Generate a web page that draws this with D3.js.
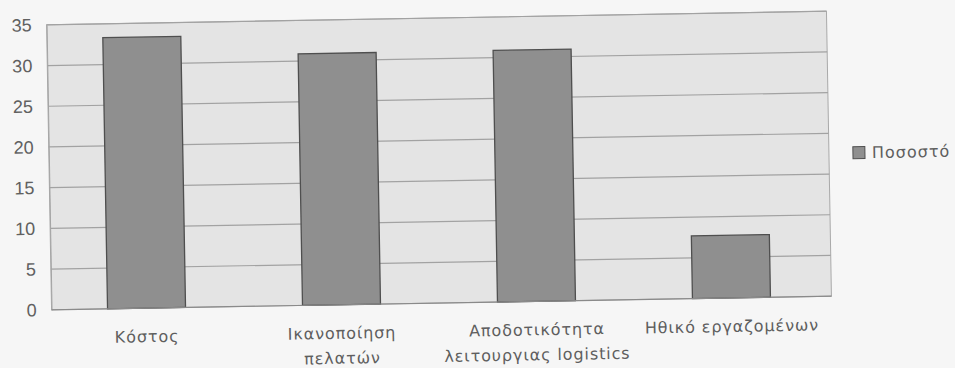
<!DOCTYPE html>
<html>
<head>
<meta charset="utf-8">
<script src="https://cdn.jsdelivr.net/npm/d3@7"></script>
<style>
  html, body { margin: 0; padding: 0; background: #f6f6f6; }
  svg { display: block; }
</style>
</head>
<body>
<div id="chart"></div>
<script>
// ---- data ----
const categories = [
  ["Κόστος"],
  ["Ικανοποίηση", "πελατών"],
  ["Αποδοτικότητα", "λειτουργιας logistics"],
  ["Ηθικό εργαζομένων"]
];
const values = [33.3, 30.9, 30.9, 7.7];
const seriesName = "Ποσοστό";
const yTicks = [0, 5, 10, 15, 20, 25, 30, 35];

// ---- layout ----
const W = 955, H = 368;
const plot = { left: 49, right: 829, top: 18, bottom: 303 };
const tilt = -1.0; // scan is slightly rotated
const cx = (plot.left + plot.right) / 2, cy = (plot.top + plot.bottom) / 2;

const svg = d3.select("#chart").append("svg")
  .attr("width", W).attr("height", H);

const g = svg.append("g").attr("transform", `rotate(${tilt},${cx},${cy})`);

const x = d3.scaleBand()
  .domain(d3.range(categories.length))
  .range([plot.left - 2.5, plot.right - 2.5])
  .paddingInner(0.6).paddingOuter(0.3);

const y = d3.scaleLinear().domain([0, 35]).range([plot.bottom, plot.top]);

// plot area
g.append("rect")
  .attr("x", plot.left).attr("y", plot.top)
  .attr("width", plot.right - plot.left).attr("height", plot.bottom - plot.top)
  .attr("fill", "#e4e4e4").attr("stroke", "#a9a9a9").attr("stroke-width", 1);

// gridlines
g.append("g").selectAll("line").data(yTicks.filter(d => d > 0)).join("line")
  .attr("x1", plot.left).attr("x2", plot.right)
  .attr("y1", d => y(d)).attr("y2", d => y(d))
  .attr("stroke", "#a2a2a2").attr("stroke-width", 1.2);

// y axis
const yAxis = g.append("g")
  .attr("transform", `translate(${plot.left},0)`)
  .call(d3.axisLeft(y).tickValues(yTicks).tickSize(0).tickPadding(15));
yAxis.select(".domain").attr("stroke", "#a4a4a4");
yAxis.selectAll("text")
  .attr("font-family", "'Liberation Sans', Arial, sans-serif")
  .attr("font-size", 18).attr("fill", "#606060");

// bars
g.append("g").selectAll("rect").data(values).join("rect")
  .attr("x", (d, i) => x(i))
  .attr("y", d => y(d))
  .attr("width", x.bandwidth())
  .attr("height", d => y(0) - y(d))
  .attr("fill", "#8f8f8f")
  .attr("stroke", "#4f4f4f").attr("stroke-width", 1.3);

// baseline
g.append("line")
  .attr("x1", plot.left).attr("x2", plot.right)
  .attr("y1", y(0)).attr("y2", y(0))
  .attr("stroke", "#8a8a8a").attr("stroke-width", 1.2);

// x labels
const xl = g.append("g");
categories.forEach((lines, i) => {
  const t = xl.append("text")
    .attr("x", x(i) + x.bandwidth() / 2)
    .attr("y", plot.bottom + 34)
    .attr("text-anchor", "middle")
    .attr("font-family", "'DejaVu Sans', sans-serif")
    .attr("font-size", 16).attr("letter-spacing", 0.9)
    .attr("fill", "#5e5e5e");
  lines.forEach((s, k) => {
    t.append("tspan").attr("x", x(i) + x.bandwidth() / 2)
      .attr("dy", k === 0 ? 0 : 25).text(s);
  });
});

// legend
const lg = g.append("g").attr("transform", `translate(853,160)`);
lg.append("rect").attr("x", 0).attr("y", -6).attr("width", 12).attr("height", 12)
  .attr("fill", "#8f8f8f").attr("stroke", "#4f4f4f").attr("stroke-width", 1);
lg.append("text").attr("x", 19).attr("y", 0).attr("dy", "0.35em")
  .attr("font-family", "'DejaVu Sans', sans-serif")
  .attr("font-size", 16).attr("letter-spacing", 1)
  .attr("fill", "#5e5e5e").text(seriesName);
</script>
</body>
</html>
